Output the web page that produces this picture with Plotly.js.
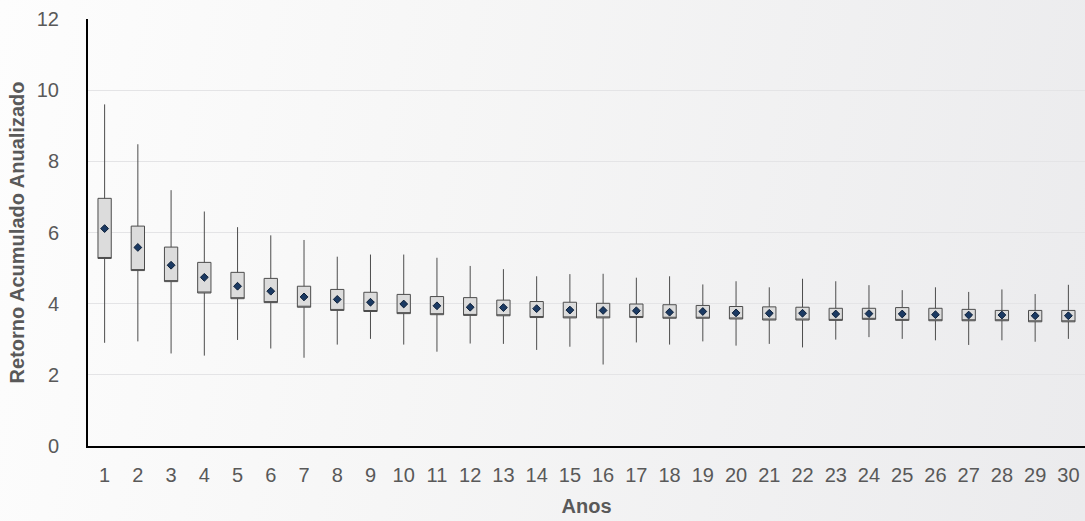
<!DOCTYPE html>
<html>
<head>
<meta charset="utf-8">
<script src="https://cdn.plot.ly/plotly-3.0.1.min.js"></script>
<style>
  html, body { margin: 0; padding: 0; }
  body { width: 1085px; height: 521px; overflow: hidden;
         background: linear-gradient(100deg, #fdfdfd 0%, #f6f6f6 40%, #ebebed 100%); }
  #chart { width: 1085px; height: 521px; }
</style>
</head>
<body>
<div id="chart"></div>
<script>
const years = [1,2,3,4,5,6,7,8,9,10,11,12,13,14,15,16,17,18,19,20,21,22,23,24,25,26,27,28,29,30];
const whiskerHigh = [9.60,8.48,7.19,6.59,6.15,5.92,5.79,5.32,5.38,5.38,5.29,5.06,4.97,4.77,4.83,4.84,4.73,4.77,4.54,4.63,4.46,4.70,4.63,4.52,4.38,4.46,4.33,4.40,4.27,4.53];
const boxTop     = [6.96,6.18,5.59,5.16,4.88,4.71,4.49,4.40,4.32,4.26,4.20,4.17,4.10,4.06,4.04,4.01,3.99,3.97,3.95,3.92,3.91,3.90,3.87,3.87,3.89,3.87,3.84,3.81,3.81,3.81];
const meanVals   = [6.11,5.58,5.08,4.74,4.49,4.35,4.19,4.12,4.04,3.99,3.94,3.90,3.89,3.86,3.82,3.81,3.80,3.76,3.78,3.74,3.73,3.73,3.71,3.72,3.71,3.69,3.68,3.68,3.66,3.66];
const boxBottom  = [5.27,4.93,4.62,4.30,4.14,4.03,3.90,3.81,3.78,3.72,3.69,3.67,3.66,3.61,3.60,3.60,3.61,3.59,3.59,3.57,3.54,3.54,3.53,3.56,3.53,3.52,3.52,3.52,3.49,3.49];
const whiskerLow = [2.90,2.94,2.60,2.54,2.98,2.74,2.48,2.85,3.01,2.85,2.65,2.88,2.87,2.70,2.79,2.29,2.91,2.85,2.94,2.82,2.87,2.77,2.99,3.06,3.01,2.97,2.84,2.97,2.93,3.01];
const yTicks = [0,2,4,6,8,10,12];

const boxTrace = {
  type: 'box',
  x: years,
  q1: boxBottom,
  median: boxBottom,
  q3: boxTop,
  lowerfence: whiskerLow,
  upperfence: whiskerHigh,
  width: 0.4,
  whiskerwidth: 0,
  fillcolor: '#dcdcdc',
  line: { color: '#4d4d4d', width: 1 },
  hoverinfo: 'skip',
  showlegend: false
};

const meanTrace = {
  type: 'scatter',
  mode: 'markers',
  x: years,
  y: meanVals,
  marker: { symbol: 'diamond', size: 6, color: '#1b3a63', line: { color: '#0d1f38', width: 1 } },
  showlegend: false,
  hoverinfo: 'skip'
};

const fam = 'Liberation Sans, Arial, sans-serif';
const tickFont = { family: fam, size: 20, color: '#595959' };

const layout = {
  width: 1085, height: 521,
  margin: { l: 88, r: 0, t: 19, b: 75 },
  paper_bgcolor: 'rgba(0,0,0,0)',
  plot_bgcolor: 'rgba(0,0,0,0)',
  font: tickFont,
  showlegend: false,
  xaxis: {
    type: 'linear',
    range: [0.5, 30.5],
    tickvals: years,
    ticktext: years.map(String),
    showgrid: false,
    zeroline: false,
    showline: true,
    linecolor: '#000000',
    linewidth: 2,
    ticks: 'outside', ticklen: 10, tickcolor: 'rgba(0,0,0,0)',
    tickfont: tickFont,
    title: { text: '<b>Anos</b>', font: { family: fam, size: 20, color: '#595959' }, standoff: 14 }
  },
  yaxis: {
    range: [0, 12],
    tickvals: yTicks,
    showgrid: true,
    gridcolor: '#e4e4e6',
    gridwidth: 1,
    zeroline: false,
    showline: true,
    linecolor: '#000000',
    linewidth: 2,
    ticks: 'outside', ticklen: 23, tickcolor: 'rgba(0,0,0,0)',
    tickfont: tickFont,
    title: { text: '<b>Retorno Acumulado Anualizado</b>', font: { family: fam, size: 20, color: '#595959' }, standoff: 7 }
  }
};

Plotly.newPlot('chart', [boxTrace, meanTrace], layout, { displayModeBar: false, staticPlot: true });
</script>
</body>
</html>
